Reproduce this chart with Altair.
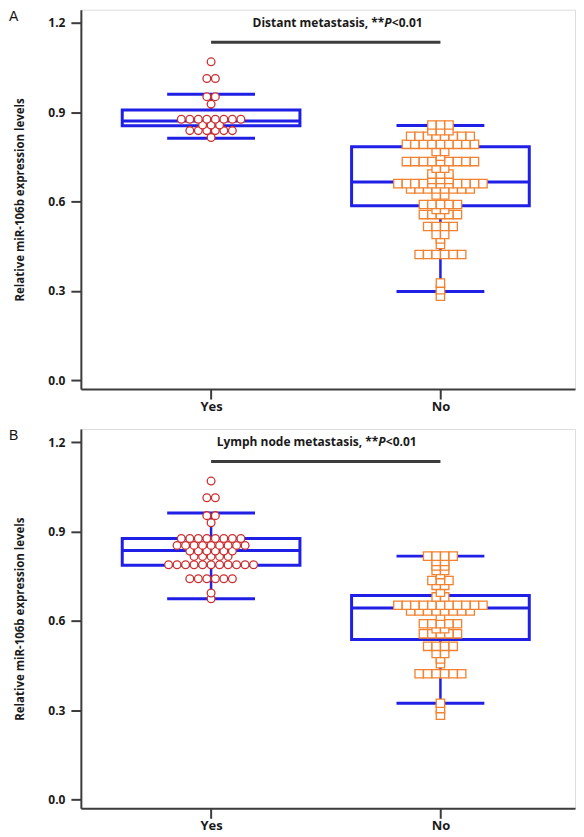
import altair as alt
import pandas as pd

# ---------------- data ----------------
GROUPS = ["Yes", "No"]
PANEL_LETTERS = ["A", "B"]
TITLES = ["Distant metastasis, **", "Lymph node metastasis, **"]
P_TEXT = "P"
P_TAIL = "<0.01"
Y_TITLE = "Relative miR-106b expression levels"
Y_TICKS = [0.0, 0.3, 0.6, 0.9, 1.2]

A_YES = ([1.069, 1.013, 1.013, 0.952, 0.952, 0.927] + [0.876] * 8 + [0.857] * 3
         + [0.838] * 6 + [0.815])
A_NO = ([0.857] * 3 + [0.838] * 3 + [0.819] * 8 + [0.792] * 9 + [0.768] * 2 + [0.752]
        + [0.734] * 9 + [0.712] * 2 + [0.692] * 3 + [0.674] * 3 + [0.660] * 11
        + [0.642] * 8 + [0.622] * 2 + [0.590] * 5 + [0.573] * 2 + [0.556] * 5
        + [0.516] * 4 + [0.489] * 2 + [0.474] + [0.456] + [0.422] * 6
        + [0.326, 0.304, 0.282])
B_YES = ([1.069, 1.013, 1.013, 0.953, 0.953, 0.929] + [0.876] * 8 + [0.853] * 9
         + [0.834] * 6 + [0.816] * 5 + [0.788] * 11 + [0.741] * 6 + [0.693, 0.674])
B_NO = ([0.817] * 4 + [0.799] * 2 + [0.784] * 2 + [0.769] * 2 + [0.755] + [0.735] * 3
        + [0.719] * 2 + [0.696] + [0.680] * 2 + [0.652] * 11 + [0.633] * 8 + [0.615]
        + [0.590] * 5 + [0.573] * 2 + [0.556] * 5 + [0.514] * 4 + [0.490] * 2
        + [0.472] + [0.456] + [0.422] * 6 + [0.323, 0.305, 0.283])

# box statistics per panel, order [Yes, No]
BOX_LOW = [[0.812, 0.298], [0.674, 0.323]]
BOX_Q1 = [[0.854, 0.586], [0.786, 0.537]]
BOX_MED = [[0.870, 0.665], [0.836, 0.643]]
BOX_Q3 = [[0.907, 0.784], [0.876, 0.685]]
BOX_HIGH = [[0.960, 0.855], [0.962, 0.817]]
SIG_Y = 1.135
TITLE_Y = 1.2

# ---------------- styling ----------------
BLUE = "#1f1fe6"
RED = "#cc2f2f"
ORANGE = "#f4812e"
AXIS_C = "#3c3c3c"
TEXT_C = "#1a1a1a"
FONT = "Open Sans"
W, H = 495, 380
X_DOMAIN = [0.454, 2.565]
Y_DOMAIN = [-0.030, 1.244]
STEP = 0.0371  # horizontal spacing between neighbouring markers (x units)
P_X = [304, 298]  # x (px) where the italic P starts in each panel


def X(field, **kw):
    return alt.X(field, type="quantitative",
                 scale=alt.Scale(domain=X_DOMAIN, nice=False, zero=False),
                 axis=alt.Axis(values=[1, 2],
                               labelExpr="datum.value == 1 ? 'Yes' : 'No'",
                               title="", grid=False, domainColor=AXIS_C,
                               domainWidth=2, tickColor=AXIS_C, tickWidth=2,
                               tickSize=10, labelPadding=1, labelFont=FONT,
                               labelFontWeight="bold", labelFontSize=13,
                               labelColor=TEXT_C), **kw)


def Y(field, **kw):
    return alt.Y(field, type="quantitative",
                 scale=alt.Scale(domain=Y_DOMAIN, nice=False, zero=False),
                 axis=alt.Axis(values=Y_TICKS, format=".1f", title=Y_TITLE,
                               grid=False, domainColor=AXIS_C, domainWidth=2,
                               tickColor=AXIS_C, tickWidth=2, tickSize=10,
                               labelPadding=6, labelFont=FONT,
                               labelFontWeight="bold", labelFontSize=12,
                               labelColor=TEXT_C, titleFont=FONT,
                               titleFontWeight="bold", titleFontSize=11.5,
                               titleColor=TEXT_C, titlePadding=22), **kw)


def panel(i, yes, no):
    pts = pd.DataFrame({"group": ["Yes"] * len(yes) + ["No"] * len(no),
                        "value": yes + no})
    box = pd.DataFrame({"group": GROUPS, "gx": [1, 2], "low": BOX_LOW[i],
                        "q1": BOX_Q1[i], "med": BOX_MED[i], "q3": BOX_Q3[i],
                        "high": BOX_HIGH[i]})
    sig = pd.DataFrame({"x1": [1], "x2": [2], "y": [SIG_Y]})
    ttl = pd.DataFrame({"t1": [TITLES[i]], "t2": [P_TEXT], "t3": [P_TAIL],
                        "y": [TITLE_Y], "letter": [PANEL_LETTERS[i]]})

    box_rect = alt.Chart(box).mark_bar(size=178, fillOpacity=0, stroke=BLUE,
                                       strokeWidth=3, opacity=1).encode(
        x=X("gx"), y=Y("q1"), y2="q3")
    med = alt.Chart(box).mark_tick(orient="horizontal", size=178, thickness=3,
                                   color=BLUE, opacity=1).encode(
        x=X("gx"), y=Y("med"))
    caps = alt.Chart(box).transform_fold(["low", "high"], as_=["k", "v"]).mark_tick(
        orient="horizontal", size=88, thickness=3, color=BLUE, opacity=1).encode(
        x=X("gx"), y=Y("v"))
    wlo = alt.Chart(box).mark_rule(color=BLUE, strokeWidth=2.5).encode(
        x=X("gx"), y=Y("low"), y2="q1")
    whi = alt.Chart(box).mark_rule(color=BLUE, strokeWidth=2.5).encode(
        x=X("gx"), y=Y("q3"), y2="high")

    points = alt.Chart(pts).transform_window(
        rn="row_number()", n="count()", groupby=["group", "value"],
        frame=[None, None]
    ).transform_calculate(
        gx="datum.group == 'Yes' ? 1 : 2"
    ).transform_calculate(
        xpos=f"datum.gx + (datum.rn - (datum.n + 1) / 2) * {STEP}"
    ).mark_point(filled=False, fill="white", fillOpacity=1, strokeWidth=1.3,
                 opacity=1).encode(
        x=X("xpos"), y=Y("value"),
        shape=alt.Shape("group:N", scale=alt.Scale(domain=GROUPS,
                                                   range=["circle", "square"]),
                        legend=None),
        stroke=alt.Stroke("group:N", scale=alt.Scale(domain=GROUPS,
                                                     range=[RED, ORANGE]),
                          legend=None),
        size=alt.Size("group:N", scale=alt.Scale(domain=GROUPS, range=[60, 70]),
                      legend=None),
        order=alt.Order("value:Q", sort="ascending"),
    )

    sig_bar = alt.Chart(sig).mark_rule(color=AXIS_C, strokeWidth=3).encode(
        x=X("x1"), x2="x2", y=Y("y"))

    t1 = alt.Chart(ttl).mark_text(align="right", baseline="middle", font=FONT,
                                  fontWeight="bold", fontSize=12,
                                  color=TEXT_C).encode(
        x=alt.value(P_X[i]), y=Y("y"), text="t1:N")
    t2 = alt.Chart(ttl).mark_text(align="left", baseline="middle", font=FONT,
                                  fontWeight="bold", fontStyle="italic",
                                  fontSize=12, color=TEXT_C).encode(
        x=alt.value(P_X[i]), y=Y("y"), text="t2:N")
    t3 = alt.Chart(ttl).mark_text(align="left", baseline="middle", font=FONT,
                                  fontWeight="bold", fontSize=12, dx=7.5,
                                  color=TEXT_C).encode(
        x=alt.value(P_X[i]), y=Y("y"), text="t3:N")
    letter = alt.Chart(ttl).mark_text(align="left", baseline="top",
                                      font="Liberation Sans", fontSize=14,
                                      color="#111111").encode(
        x=alt.value(-72), y=alt.value(0), text="letter:N")

    return alt.layer(box_rect, wlo, whi, med, caps, points, sig_bar, t1, t2, t3,
                     letter).properties(width=W, height=H)


chart = alt.vconcat(panel(0, A_YES, A_NO), panel(1, B_YES, B_NO), spacing=14).properties(
    padding={"left": 0, "top": 0, "right": 0, "bottom": 0}
).configure_view(strokeWidth=0).configure(background="white")

chart.save("out.html", embed_options={"renderer": "svg", "actions": False})
